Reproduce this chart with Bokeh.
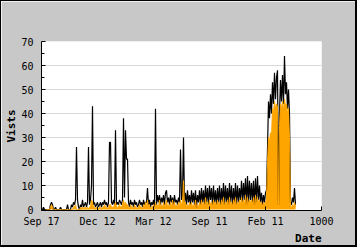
from bokeh.plotting import figure
from bokeh.models import Range1d, FixedTicker, Title
from bokeh.embed import file_html
from bokeh.resources import INLINE

# one value per screen column of the original chart (day buckets)
visits = [
    0, 0, 1, 0, 0, 0, 0, 0, 0, 2,
    3, 2, 0, 0, 1, 0, 0, 0, 0, 1,
    0, 0, 0, 0, 0, 0, 2, 0, 0, 0,
    2, 1, 3, 2, 4, 26, 4, 1, 0, 2,
    1, 4, 1, 2, 3, 1, 3, 26, 2, 4,
    10, 43, 2, 3, 1, 2, 3, 1, 2, 3,
    1, 3, 2, 4, 2, 3, 1, 3, 28, 28,
    3, 2, 4, 2, 33, 2, 3, 2, 4, 3,
    2, 4, 38, 5, 33, 21, 21, 3, 1, 4,
    2, 3, 1, 4, 2, 3, 1, 2, 4, 2,
    3, 1, 4, 2, 3, 3, 9, 2, 4, 1,
    3, 2, 4, 1, 42, 2, 6, 3, 6, 2,
    5, 3, 6, 2, 7, 8, 3, 5, 2, 6,
    3, 5, 2, 6, 3, 4, 2, 5, 3, 25,
    4, 6, 30, 3, 7, 2, 8, 3, 6, 2,
    8, 3, 7, 2, 8, 1, 6, 3, 8, 2,
    9, 3, 8, 2, 10, 3, 9, 2, 10, 4,
    9, 2, 10, 3, 8, 2, 9, 3, 10, 2,
    9, 3, 11, 2, 10, 3, 9, 2, 11, 3,
    10, 2, 9, 3, 11, 2, 10, 3, 9, 4,
    12, 3, 11, 4, 13, 2, 14, 3, 12, 4,
    11, 3, 12, 2, 13, 3, 14, 4, 10, 3,
    7, 2, 6, 3, 7, 8, 25, 45, 38, 48,
    40, 53, 44, 57, 46, 55, 58, 2, 40, 54,
    45, 56, 44, 64, 48, 53, 42, 50, 40, 3,
    2, 5, 3, 9, 2,
]

uniques = [
    0, 0, 0, 0, 0, 0, 0, 0, 0, 1,
    2, 1, 0, 0, 0, 0, 0, 0, 0, 0,
    0, 0, 0, 0, 0, 0, 0, 0, 0, 0,
    0, 0, 1, 1, 2, 0, 0, 0, 0, 1,
    0, 1, 0, 1, 1, 0, 1, 0, 1, 1,
    4, 3, 1, 1, 0, 1, 1, 0, 1, 1,
    0, 1, 1, 2, 1, 1, 0, 1, 2, 2,
    1, 1, 1, 2, 3, 1, 1, 1, 2, 1,
    1, 2, 4, 2, 3, 2, 2, 1, 0, 2,
    1, 1, 0, 2, 1, 1, 0, 1, 2, 1,
    1, 0, 2, 1, 3, 1, 4, 1, 2, 0,
    1, 1, 2, 0, 3, 1, 2, 1, 4, 1,
    2, 1, 3, 1, 2, 4, 1, 2, 1, 3,
    1, 4, 1, 3, 1, 2, 1, 3, 1, 4,
    2, 3, 12, 2, 3, 1, 2, 1, 3, 1,
    3, 1, 2, 1, 4, 1, 2, 1, 3, 1,
    4, 1, 3, 1, 5, 2, 3, 1, 4, 2,
    3, 1, 4, 2, 3, 1, 4, 2, 3, 1,
    4, 2, 5, 1, 3, 2, 4, 1, 5, 2,
    3, 1, 4, 2, 5, 1, 3, 2, 4, 2,
    5, 2, 4, 2, 6, 1, 5, 2, 4, 3,
    4, 2, 5, 1, 6, 2, 5, 3, 4, 2,
    3, 1, 3, 2, 3, 4, 20, 30, 28, 32,
    30, 42, 40, 45, 42, 44, 43, 2, 35, 44,
    42, 45, 41, 46, 43, 44, 40, 42, 30, 1,
    1, 2, 1, 3, 1,
]

tick_pos = [0, 56, 112, 168, 224, 280]
tick_labels = ["Sep 17", "Dec 12", "Mar 12", "Sep 11", "Feb 11", "1000"]
y_ticks = [0, 10, 20, 30, 40, 50, 60, 70]

x = list(range(len(visits)))
zeros = [0] * len(uniques)

p = figure(width=357, height=247, output_backend="svg", toolbar_location=None,
           x_range=Range1d(0, 280), y_range=Range1d(-0.4, 70))
p.styles = {"border-style": "solid", "border-color": "black",
            "border-width": "1px 2px 2px 1px"}
p.min_border_left = 40
p.min_border_right = 37
p.min_border_top = 40
p.min_border_bottom = 38
p.background_fill_color = "white"
p.border_fill_color = "#c8c8c8"
p.outline_line_color = None

p.varea(x=x, y1=zeros, y2=uniques, fill_color="#ffa500")
p.line(x=x, y=visits, line_color="black", line_width=1.2)
p.line(x=x, y=uniques, line_color="#ffa500", line_width=1)

p.xgrid.grid_line_color = None
p.ygrid.grid_line_color = "#d8d8d8"
p.ygrid.ticker = FixedTicker(ticks=y_ticks[1:-1])

p.xaxis.ticker = FixedTicker(ticks=tick_pos)
p.xaxis.major_label_overrides = {t: l for t, l in zip(tick_pos, tick_labels)}
p.yaxis.ticker = FixedTicker(ticks=y_ticks, minor_ticks=[5, 15, 25, 35, 45, 55, 65])

for ax in (p.xaxis, p.yaxis):
    ax.axis_line_color = "black"
    ax.major_tick_in = 4
    ax.major_tick_out = 0
    ax.minor_tick_in = 3
    ax.minor_tick_out = 0
    ax.major_tick_line_color = "black"
    ax.major_label_text_font = "DejaVu Sans Mono"
    ax.major_label_text_font_size = "10px"
    ax.major_label_text_color = "black"

p.xaxis.minor_tick_line_color = None
p.xaxis.major_label_standoff = 5
p.yaxis.major_label_standoff = 8

title_style = dict(text_font="DejaVu Sans Mono", text_font_size="11px",
                   text_font_style="bold", text_color="black")
p.add_layout(Title(text="Vists", align="center", standoff=2, **title_style), "left")
p.add_layout(Title(text="Date", align="right", standoff=0, **title_style), "below")

open("out.html", "w").write(file_html(p, INLINE))
